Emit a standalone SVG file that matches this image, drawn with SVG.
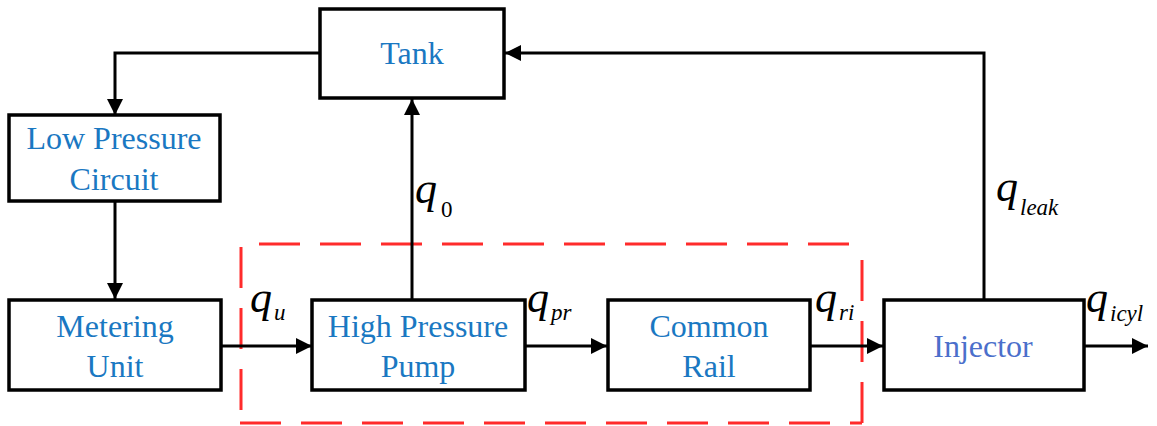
<svg xmlns="http://www.w3.org/2000/svg" width="1157" height="426" viewBox="0 0 1157 426">
<style>
.box{fill:#fff;stroke:#000;stroke-width:3.5}
.lbl{font-family:'Liberation Serif','Times New Roman',serif;font-size:32px;fill:#1a78c2;text-anchor:middle}
.inj{fill:#4b6fcb}
.conn{fill:none;stroke:#000;stroke-width:3}
.dash{fill:none;stroke:#ff2b2b;stroke-width:3;stroke-dasharray:41 20}
.q{font-family:'Liberation Serif','Times New Roman',serif;font-style:italic;font-size:44px;fill:#000}
.s{font-family:'Liberation Serif','Times New Roman',serif;font-style:italic;font-size:23px;fill:#000}
.s0{font-family:'Liberation Serif','Times New Roman',serif;font-size:23px;fill:#000}
</style>
<defs>
<marker id="arr" viewBox="0 0 10 10" refX="10" refY="5" markerWidth="19" markerHeight="16" markerUnits="userSpaceOnUse" orient="auto">
<path d="M0,0 L10,5 L0,10 Z" fill="#000"/>
</marker>
</defs>
<rect width="1157" height="426" fill="#fff"/>
<g id="region">
<line class="dash" x1="241" y1="244" x2="862" y2="244" stroke-dashoffset="43"/>
<line class="dash" x1="241" y1="247" x2="241" y2="423"/>
<line class="dash" x1="862" y1="423" x2="862" y2="244"/>
<line class="dash" x1="240" y1="423" x2="862" y2="423"/>
</g>
<g id="connectors">
<polyline class="conn" points="320,53 115,53 115,115" marker-end="url(#arr)"/>
<line class="conn" x1="115" y1="201" x2="115" y2="299" marker-end="url(#arr)"/>
<line class="conn" x1="221" y1="346" x2="312" y2="346" marker-end="url(#arr)"/>
<line class="conn" x1="412" y1="300" x2="412" y2="99" marker-end="url(#arr)"/>
<line class="conn" x1="525" y1="346" x2="607" y2="346" marker-end="url(#arr)"/>
<line class="conn" x1="810" y1="346" x2="883" y2="346" marker-end="url(#arr)"/>
<polyline class="conn" points="984,300 984,53 505,53" marker-end="url(#arr)"/>
<line class="conn" x1="1084" y1="346" x2="1148" y2="346" marker-end="url(#arr)"/>
</g>
<g id="tank">
<rect class="box" x="320" y="9" width="184" height="89"/>
<text class="lbl" x="412" y="64">Tank</text>
</g>
<g id="lpc">
<rect class="box" x="9" y="115" width="211" height="86"/>
<text class="lbl" x="114" y="149">Low Pressure</text>
<text class="lbl" x="114" y="190">Circuit</text>
</g>
<g id="metering">
<rect class="box" x="9" y="300" width="212" height="90"/>
<text class="lbl" x="115" y="337">Metering</text>
<text class="lbl" x="115" y="377">Unit</text>
</g>
<g id="hpp">
<rect class="box" x="312" y="300" width="213" height="90"/>
<text class="lbl" x="418" y="337">High Pressure</text>
<text class="lbl" x="418" y="377">Pump</text>
</g>
<g id="rail">
<rect class="box" x="608" y="300" width="202" height="90"/>
<text class="lbl" x="709" y="337">Common</text>
<text class="lbl" x="709" y="377">Rail</text>
</g>
<g id="injector">
<rect class="box" x="884" y="300" width="200" height="90"/>
<text class="lbl inj" x="983" y="357">Injector</text>
</g>
<g id="labels">
<text class="q" x="415" y="203">q</text><text class="s0" x="441" y="217">0</text>
<text class="q" x="250" y="312">q</text><text class="s" x="274" y="320">u</text>
<text class="q" x="527" y="312">q</text><text class="s" x="551" y="320">pr</text>
<text class="q" x="815" y="312">q</text><text class="s" x="839" y="320">ri</text>
<text class="q" x="996" y="201">q</text><text class="s" x="1020" y="215">leak</text>
<text class="q" x="1086" y="312">q</text><text class="s" x="1110" y="321">icyl</text>
</g>
</svg>
